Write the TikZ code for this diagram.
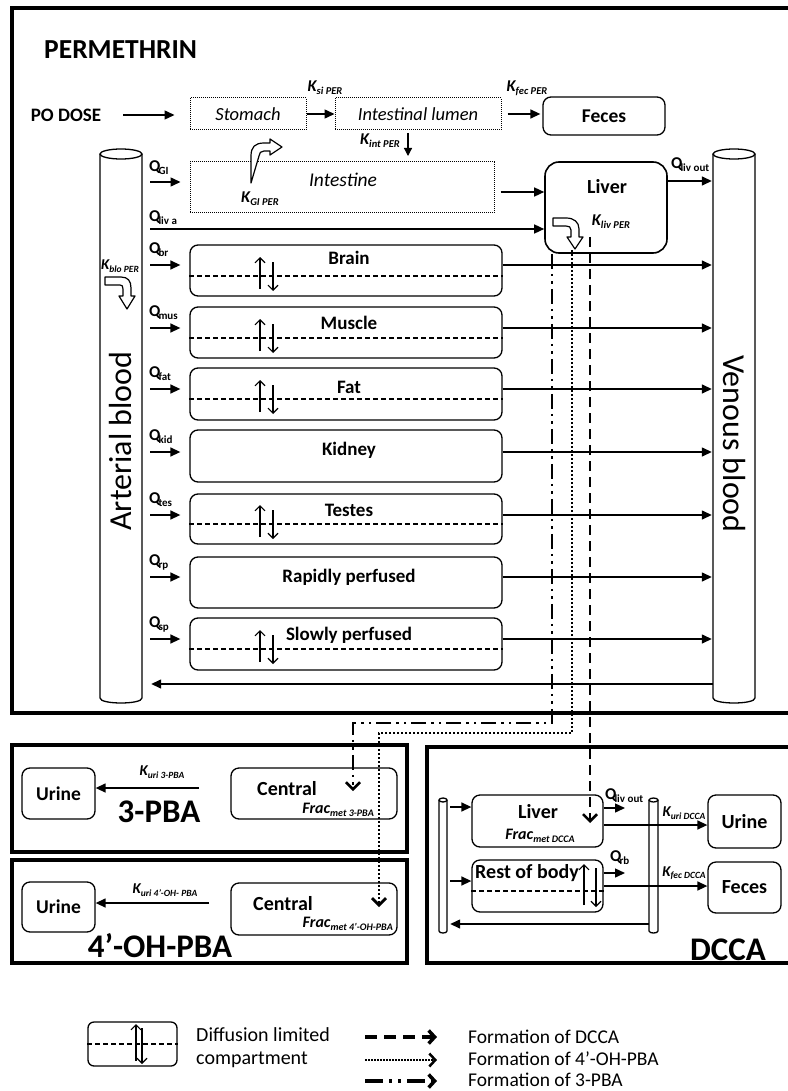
\documentclass[tikz,border=0pt]{standalone}
\usepackage{fontspec}
\setmainfont{Carlito}
\usetikzlibrary{arrows.meta}
\newcommand\fs[1]{\fontsize{#1}{#1}\selectfont}
\newcommand\Kl[1]{{\bfseries\itshape\fs{16.5}K\raisebox{-3pt}{\fs{10.5}#1}}}
\newcommand\Ksm[1]{{\bfseries\itshape\fs{15}K\raisebox{-2.5pt}{\fs{9.5}#1}}}
\newcommand\Ql[1]{{\bfseries\fs{16.5}Q\kern-2pt\raisebox{-3pt}{\fs{11}#1}}}
\newcommand\Fr[1]{{\bfseries\itshape\fs{16}Frac\raisebox{-3pt}{\fs{10}met #1}}}
\newcommand\cyl[5]{% cx, top, bottom, rx, ry
  \draw[cylst] (#1-#4,#2) -- (#1-#4,#3) .. controls (#1-#4,#3+1.33*#5) and (#1+#4,#3+1.33*#5) .. (#1+#4,#3) -- (#1+#4,#2);
  \draw[cylst] (#1,#2) ellipse [x radius=#4, y radius=#5];}
\newcommand\comp[7]{% name, cy, h, text, text y, arrow y, Q sub
  \node[cbox, minimum width=312pt, minimum height=#3pt] (#1) at (346,#2) {};
  \node[bt] (#1t) at (349,#5) {#4};
  \node[lab, anchor=west] (#1q) at (149,#6-15) {\Ql{#7}};
  \draw[arr, shorten <=8pt, shorten >=9pt] (art.east |- 0,#6) -- (#1.west |- 0,#6);
  \draw[arr, shorten >=1pt] (#1.east |- 0,#6) -- (ven.west |- 0,#6);}
\newcommand\diff[2]{% name, dashed y
  \draw[dl] (#1.west |- 0,#2) -- (#1.east |- 0,#2);
  \draw[darr] (260,#2+13) -- (260,#2-19);
  \draw[darr] (273,#2-14) -- (273,#2+15);}
\begin{document}
\begin{tikzpicture}[x=1pt,y=-1pt,
  frame/.style={line width=4pt},
  cbox/.style={draw, line width=1.3pt, rounded corners=8pt, inner sep=0},
  dbox/.style={draw, line width=1pt, dash pattern=on 1pt off 1pt, inner sep=0},
  bt/.style={inner sep=0, font=\bfseries\fs{19}},
  itx/.style={inner sep=0, font=\itshape\fs{18.5}},
  lab/.style={inner sep=0},
  big/.style={inner sep=0, font=\bfseries\fs{33}},
  arr/.style={line width=1.4pt, -{Triangle[length=10pt,width=9pt]}},
  sarr/.style={line width=1.2pt, -{Triangle[length=8pt,width=8pt]}},
  darr/.style={line width=1.1pt, -{Straight Barb[length=5pt,width=10pt]}},
  dl/.style={line width=1.1pt, dash pattern=on 5pt off 3pt},
  hollow/.style={draw, line width=1.2pt, fill=white, line join=round},
  cylst/.style={line width=1.3pt},
  fdash/.style={line width=2.6pt, dash pattern=on 10pt off 6pt},
  fdot/.style={line width=2.8pt, dash pattern=on 2pt off 2pt},
  fdd/.style={line width=2.6pt, dash pattern=on 15pt off 5pt on 2.5pt off 5pt on 2.5pt off 5pt},
  ftip/.style={-{Straight Barb[length=7pt,width=14pt]}},
  legtip/.style={-{Straight Barb[length=6pt,width=13pt]}},
]
\useasboundingbox (0,0) rectangle (787,1091);
\fill[white] (0,0) rectangle (787,1091);

% ---------- frames ----------
\draw[frame] (12,8) rectangle (800,713);
\draw[frame] (12,745) rectangle (407,852);
\draw[frame] (12,860) rectangle (407,963);
\draw[frame] (427,747) rectangle (800,963);

% ---------- top ----------
\node[lab, anchor=west, font=\bfseries\fs{27.5}] (title) at (44,50) {PERMETHRIN};
\node[lab, font=\bfseries\fs{19}] (podose) at (66,115) {PO DOSE};
\node[dbox, minimum width=116pt, minimum height=32pt, font=\itshape\fs{18.5}] (stom) at (248,114) {Stomach};
\node[dbox, minimum width=166pt, minimum height=32pt, font=\itshape\fs{18.5}] (lumen) at (418,114) {Intestinal lumen};
\node[cbox, minimum width=122pt, minimum height=38pt, font=\bfseries\fs{19.5}] (feces1) at (604,116) {Feces};
\draw[arr, shorten <=22pt, shorten >=15pt] (podose.east |- 0,115) -- (stom.west |- 0,115);
\draw[arr] (stom.east |- 0,114) -- (lumen.west |- 0,114);
\draw[arr, shorten <=6pt, shorten >=2pt] (lumen.east |- 0,114) -- (feces1.west |- 0,114);
\node[lab] (ksi) at (325,88) {\Kl{si PER}};
\node[lab] (kfec) at (527,88) {\Kl{fec PER}};
\node[lab] (kint) at (380,141) {\Kl{int PER}};
\coordinate (kinta) at (408,133);
\coordinate (kintb) at (408,156);
\draw[sarr] (kinta) -- (kintb);

% ---------- blood cylinders ----------
\cyl{121}{154}{698}{21}{5}
\cyl{734}{154}{698}{21}{5}
\node[minimum width=42pt, minimum height=544pt, inner sep=0] (art) at (121,426) {};
\node[minimum width=42pt, minimum height=544pt, inner sep=0] (ven) at (734,426) {};
\node[lab, rotate=90, font=\fs{32}] (artt) at (121,441) {Arterial blood};
\node[lab, rotate=-90, font=\fs{32}] (vent) at (734,444) {Venous blood};
\node[lab] (kblo) at (120,266) {\Ksm{blo PER}};
\draw[hollow] (105,277) -- (121,277) .. controls (128,277) and (131,281) .. (131,288) -- (131,296) -- (135,296) -- (127,309) -- (119,296) -- (123,296) -- (123,289) .. controls (123,286) and (122,285) .. (120,285) -- (105,285) -- cycle;

% ---------- intestine & liver ----------
\node[dbox, minimum width=304pt, minimum height=51pt] (intest) at (342,187.5) {};
\node[itx, font=\itshape\fs{19.5}] (intestt) at (343,180) {Intestine};
\node[lab] (kgi) at (260,199) {\Kl{GI PER}};
\draw[hollow] (251,183) -- (251,156) .. controls (251,147) and (255,143) .. (264,143) -- (270,143) -- (270,139) -- (282,147) -- (270,155) -- (270,151) -- (264,151) .. controls (261,151) and (259,153) .. (259,156) -- cycle;
\node[lab, anchor=west] (qgi) at (149,168) {\Ql{GI}};
\draw[arr, shorten <=8pt, shorten >=9pt] (art.east |- 0,182) -- (intest.west |- 0,182);

\node[draw, line width=1.6pt, rounded corners=14pt, minimum width=122pt, minimum height=91pt, inner sep=0] (liver) at (606,207.5) {};
\node[bt, font=\bfseries\fs{20}] (livert) at (607,187) {Liver};
\node[lab] (kliv) at (611,222) {\Kl{liv PER}};
\draw[hollow] (553,218) -- (566,218) .. controls (574,218) and (579,222) .. (579,229) -- (579,237) -- (583,237) -- (575,249) -- (567,237) -- (571,237) -- (571,230) .. controls (571,227) and (569,226) .. (566,226) -- (553,226) -- cycle;
\draw[arr, shorten <=6pt] (intest.east |- 0,192) -- (liver.west |- 0,192);
\node[lab, anchor=west] (qliva) at (149,218) {\Ql{liv a}};
\draw[arr, shorten <=8pt] (art.east |- 0,229) -- (liver.west |- 0,229);
\node[lab, anchor=west] (qlivout) at (671,165) {\Ql{liv out}};
\draw[arr, shorten >=1pt] (liver.east |- 0,181) -- (ven.west |- 0,181);

% ---------- compartments ----------
\comp{brain}{270.5}{51}{Brain}{258}{265}{br}
\comp{muscle}{332.5}{51}{Muscle}{323}{328}{mus}
\comp{fat}{394}{52}{Fat}{387}{389}{fat}
\comp{kidney}{456}{52}{Kidney}{450}{452}{kid}
\comp{testes}{519}{50}{Testes}{510}{515}{tes}
\comp{rapid}{582.5}{51}{Rapidly perfused}{577}{577}{rp}
\comp{slow}{644}{52}{Slowly perfused}{635}{639}{sp}
\diff{brain}{276}
\diff{muscle}{338}
\diff{fat}{399}
\diff{testes}{524}
\diff{slow}{649}
\draw[arr, shorten >=9pt] (ven.west |- 0,684) -- (art.east |- 0,684);

% ---------- 3-PBA ----------
\node[cbox, minimum width=73pt, minimum height=51pt, font=\bfseries\fs{19.5}] (urine3) at (58.5,793.5) {Urine};
\node[cbox, minimum width=166pt, minimum height=51pt] (cent3) at (314,793.5) {};
\node[bt, font=\bfseries\fs{20}] (cent3t) at (287,789) {Central};
\node[lab, anchor=east] (frac3) at (374,810) {\Fr{3-PBA}};
\node[lab] (kuri3) at (162,772) {\Ksm{uri 3-PBA}};
\coordinate (a3s) at (199,788);
\draw[arr] (a3s) -- (urine3.east |- a3s) ;
\node[big] (pba3) at (159,812) {3-PBA};

% ---------- 4'-OH-PBA ----------
\node[cbox, minimum width=73pt, minimum height=50pt, font=\bfseries\fs{19.5}] (urine4) at (58.5,907) {Urine};
\node[cbox, minimum width=166pt, minimum height=52pt] (cent4) at (314,909) {};
\node[bt, font=\bfseries\fs{20}] (cent4t) at (283,904) {Central};
\node[lab, anchor=east] (frac4) at (393,924) {\Fr{4’-OH-PBA}};
\node[lab] (kuri4) at (165,890) {\Ksm{uri 4’-OH- PBA}};
\coordinate (a4s) at (209,903);
\draw[arr] (a4s) -- (urine4.east |- a4s);
\node[big] (pba4) at (160,946) {4’-OH-PBA};

% ---------- DCCA ----------
\cyl{443}{800}{931}{4}{2}
\cyl{653.5}{800}{931}{4.5}{2}
\node[minimum width=8pt, minimum height=131pt, inner sep=0] (dart) at (443,865.5) {};
\node[minimum width=9pt, minimum height=131pt, inner sep=0] (dven) at (653.5,865.5) {};
\node[cbox, minimum width=131pt, minimum height=52pt] (dliver) at (537.5,821) {};
\node[bt, font=\bfseries\fs{20}] (dlivert) at (538,812) {Liver};
\node[lab] (fracd) at (540,836) {\Fr{DCCA}};
\node[cbox, minimum width=131pt, minimum height=52pt] (drob) at (537.5,886) {};
\node[bt, font=\bfseries\fs{20}] (drobt) at (527,873) {Rest of body};
\draw[dl] (drob.west |- 0,891) -- (drob.east |- 0,891);
\draw[darr] (584,905) -- (584,864);
\draw[darr] (596,868) -- (596,907);
\node[cbox, minimum width=73pt, minimum height=53pt, font=\bfseries\fs{20}] (durine) at (744.5,821.5) {Urine};
\node[cbox, minimum width=73pt, minimum height=51pt, font=\bfseries\fs{20}] (dfeces) at (744.5,887.5) {Feces};
\draw[arr, shorten <=3pt] (dart.east |- 0,807) -- (dliver.west |- 0,807);
\draw[arr, shorten <=3pt] (dart.east |- 0,881) -- (drob.west |- 0,881);
\coordinate (dqlo) at (625,808);
\coordinate (dqrb) at (625,873);
\draw[arr] (dliver.east |- dqlo) -- (dqlo);
\draw[arr] (drob.east |- dqrb) -- (dqrb);
\node[lab, anchor=west] (dqlivout) at (605,796) {\Ql{liv out}};
\node[lab, anchor=west] (dqrbt) at (610,858) {\Ql{rb}};
\draw[arr] (dliver.east |- 0,825) -- (durine.west |- 0,825);
\draw[arr] (drob.east |- 0,886) -- (dfeces.west |- 0,886);
\node[lab] (kurid) at (684,813) {\Ksm{uri DCCA}};
\node[lab] (kfecd) at (684,873) {\Ksm{fec DCCA}};
\draw[arr, shorten >=3pt] (dven.west |- 0,924) -- (dart.east |- 0,924);
\node[big] (dcca) at (728,950) {DCCA};

% ---------- formation paths ----------
\coordinate (f3a) at (552,723);
\coordinate (f3b) at (353,723);
\coordinate (f3c) at (353,791);
\draw[fdd, ftip] (liver.south -| 552,0) -- (f3a) -- (f3b) -- (f3c);
\coordinate (f4s) at (572,250);
\coordinate (f4a) at (572,733);
\coordinate (f4b) at (379,733);
\coordinate (f4c) at (379,907);
\draw[fdot, ftip] (f4s) -- (f4a) -- (f4b) -- (f4c);
\coordinate (fds) at (590,237);
\coordinate (fdc) at (590,823);
\draw[fdash, ftip] (fds) -- (fdc);

% ---------- legend ----------
\node[draw, line width=1.3pt, rounded corners=6pt, minimum width=89pt, minimum height=44pt, inner sep=0] (leg) at (132.5,1044) {};
\draw[dl] (leg.west |- 0,1044) -- (leg.east |- 0,1044);
\draw[darr] (136,1061) -- (136,1024);
\draw[darr] (142,1028) -- (142,1064);
\node[lab, anchor=west, font=\fs{20}] (legt1) at (196,1035) {Diffusion limited};
\node[lab, anchor=west, font=\fs{20}] (legt2) at (196,1060) {compartment};
\coordinate (l1a) at (365,1037); \coordinate (l1b) at (437,1037);
\coordinate (l2a) at (365,1060); \coordinate (l2b) at (437,1060);
\coordinate (l3a) at (365,1081); \coordinate (l3b) at (437,1081);
\draw[line width=3.5pt, dash pattern=on 12pt off 7pt, legtip] (l1a) -- (l1b);
\draw[line width=2.5pt, dash pattern=on 1.5pt off 1.5pt, legtip] (l2a) -- (l2b);
\draw[line width=3.5pt, dash pattern=on 18pt off 6pt on 3pt off 6pt on 3pt off 6pt, legtip] (l3a) -- (l3b);
\node[lab, anchor=west, font=\fs{19.5}] (legf1) at (468,1037) {Formation of DCCA};
\node[lab, anchor=west, font=\fs{19.5}] (legf2) at (468,1059) {Formation of 4’-OH-PBA};
\node[lab, anchor=west, font=\fs{19.5}] (legf3) at (468,1080) {Formation of 3-PBA};
\end{tikzpicture}
\end{document}
